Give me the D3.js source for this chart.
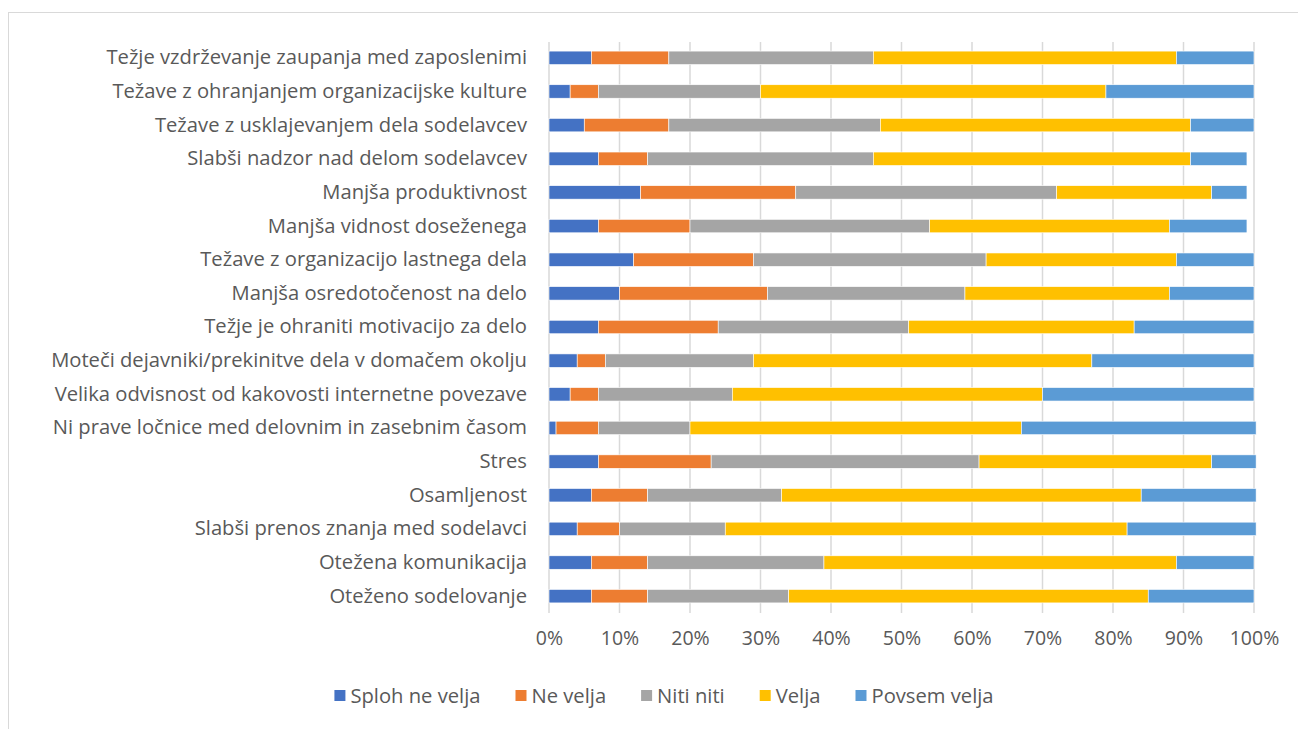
<!DOCTYPE html>
<html><head><meta charset="utf-8">
<script src="https://cdn.jsdelivr.net/npm/d3@7"></script>
<style>body{margin:0;background:#fff;} svg{display:block;font-family:"Open Sans", sans-serif;}</style>
</head><body><svg id="c" width="1298" height="729"></svg>
<script>
const categories = [
  "Težje vzdrževanje zaupanja med zaposlenimi",
  "Težave z ohranjanjem organizacijske kulture",
  "Težave z usklajevanjem dela sodelavcev",
  "Slabši nadzor nad delom sodelavcev",
  "Manjša produktivnost",
  "Manjša vidnost doseženega",
  "Težave z organizacijo lastnega dela",
  "Manjša osredotočenost na delo",
  "Težje je ohraniti motivacijo za delo",
  "Moteči dejavniki/prekinitve dela v domačem okolju",
  "Velika odvisnost od kakovosti internetne povezave",
  "Ni prave ločnice med delovnim in zasebnim časom",
  "Stres",
  "Osamljenost",
  "Slabši prenos znanja med sodelavci",
  "Otežena komunikacija",
  "Oteženo sodelovanje"
];
const seriesNames = ["Sploh ne velja", "Ne velja", "Niti niti", "Velja", "Povsem velja"];
const splohNeVelja = [6, 3, 5, 7, 13, 7, 12, 10, 7, 4, 3, 1, 7, 6, 4, 6, 6];
const neVelja      = [11, 4, 12, 7, 22, 13, 17, 21, 17, 4, 4, 6, 16, 8, 6, 8, 8];
const nitiNiti     = [29, 23, 30, 32, 37, 34, 33, 28, 27, 21, 19, 13, 38, 19, 15, 25, 20];
const velja        = [43, 49, 44, 45, 22, 34, 27, 29, 32, 48, 44, 47, 33, 51, 57, 50, 51];
const povsemVelja  = [11, 21, 9, 8, 5, 11, 11, 12, 17, 23, 30, 33.3, 6.3, 16.3, 18.3, 11, 15];
const tickValues = [0, 0.1, 0.2, 0.3, 0.4, 0.5, 0.6, 0.7, 0.8, 0.9, 1.0];
const colors = ["#4472C4", "#ED7D31", "#A5A5A5", "#FFC000", "#5B9BD5"];

const seriesData = [splohNeVelja, neVelja, nitiNiti, velja, povsemVelja];
const rows = categories.map((c, i) => {
  const o = {cat: c};
  seriesNames.forEach((s, k) => o[s] = seriesData[k][i] / 100);
  return o;
});
const stacked = d3.stack().keys(seriesNames)(rows);

const FS = 20.2;
const FONT = "'Open Sans', sans-serif";
const svg = d3.select("#c");
svg.append("rect").attr("x", 8.5).attr("y", 12.5).attr("width", 1300).attr("height", 730)
  .attr("fill", "none").attr("stroke", "#d9d9d9").attr("stroke-width", 1);

const x = d3.scaleLinear().domain([0, 1]).range([549, 1254]);
const y = d3.scaleBand().domain(categories).range([41, 613]).paddingInner(0.6).paddingOuter(0.3);

svg.append("g").selectAll("line").data(tickValues).join("line")
  .attr("x1", d => x(d)).attr("x2", d => x(d))
  .attr("y1", 42).attr("y2", 613)
  .attr("stroke", "#d9d9d9").attr("stroke-width", 1.5);

svg.append("g").selectAll("g").data(stacked).join("g")
  .attr("fill", (d, i) => colors[i])
  .selectAll("rect").data(d => d).join("rect")
  .attr("x", d => x(d[0]))
  .attr("width", d => x(d[1]) - x(d[0]))
  .attr("y", d => y(d.data.cat))
  .attr("height", y.bandwidth())
  .attr("stroke", "#fff").attr("stroke-width", 0.6);

const xAxis = d3.axisBottom(x).tickValues(tickValues).tickFormat(d3.format(".0%")).tickSize(0).tickPadding(0);
const gx = svg.append("g").attr("transform", "translate(0,631)").call(xAxis);
gx.select(".domain").remove();
gx.selectAll("text").attr("fill", "#595959").attr("font-size", 19.5).attr("dy", "0.71em")
  .style("font-family", FONT);

const yAxis = d3.axisLeft(y).tickSize(0).tickPadding(22);
const gy = svg.append("g").attr("transform", "translate(549,0)").call(yAxis);
gy.select(".domain").remove();
gy.selectAll("text").attr("fill", "#595959").attr("font-size", FS)
  .style("font-family", FONT);

const lg = svg.append("g");
let lx = 0;
const GAP = 35;
seriesNames.forEach((s, i) => {
  const g = lg.append("g");
  g.append("rect").attr("x", 0).attr("y", -6).attr("width", 11).attr("height", 11).attr("fill", colors[i]);
  const t = g.append("text").attr("x", 16).attr("y", 0).attr("dy", "0.35em").text(s)
    .attr("fill", "#595959").attr("font-size", FS).style("font-family", FONT);
  const w = 16 + t.node().getComputedTextLength();
  g.attr("transform", `translate(${lx},0)`);
  lx += w + GAP;
});
const totalW = lx - GAP;
lg.attr("transform", `translate(${664 - totalW / 2},696)`);
</script></body></html>
